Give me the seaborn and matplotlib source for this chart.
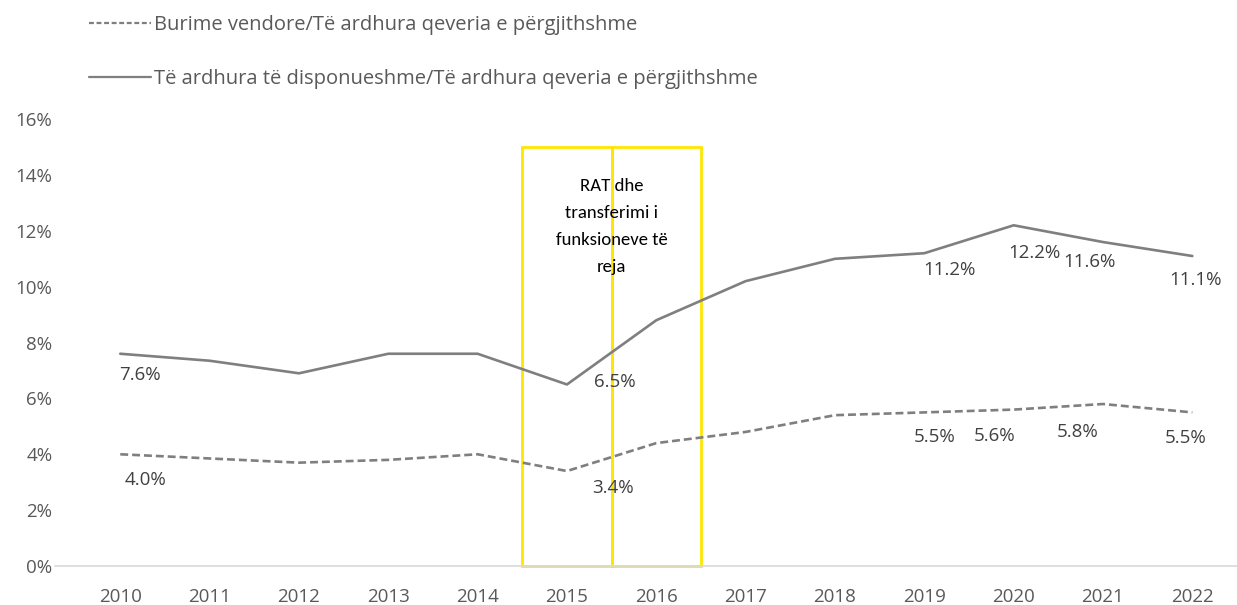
import matplotlib.pyplot as plt
import matplotlib.ticker as mticker
import pandas as pd
import seaborn as sns
from matplotlib.patches import Rectangle

years = [2010, 2011, 2012, 2013, 2014, 2015, 2016, 2017, 2018, 2019, 2020, 2021, 2022]
own_sources = [4.0, 3.85, 3.7, 3.8, 4.0, 3.4, 4.4, 4.8, 5.4, 5.5, 5.6, 5.8, 5.5]
disposable = [7.6, 7.35, 6.9, 7.6, 7.6, 6.5, 8.8, 10.2, 11.0, 11.2, 12.2, 11.6, 11.1]

name_own = "Burime vendore/Të ardhura qeveria e përgjithshme"
name_disp = "Të ardhura të disponueshme/Të ardhura qeveria e përgjithshme"
box_note = "RAT dhe\ntransferimi i\nfunksioneve të\nreja"
box_years = [2015, 2016]
box_top = 15

# which points get a data label, and label offsets in pixels (dx, dy)
label_idx = [0, 5, 9, 10, 11, 12]
disp_offsets = [(20, -21), (48, 2), (25, -17), (21, -28), (-14, -20), (3, -24)]
own_offsets = [(25, -26), (46, -17), (10, -25), (-19, -26), (-25, -28), (-7, -26)]

LINE = "#7f7f7f"
TEXT = "#404040"
TICK = "#595959"
YELLOW = "#FFE600"

df = pd.DataFrame({
    "x": list(range(len(years))) * 2,
    "value": own_sources + disposable,
    "series": [name_own] * len(years) + [name_disp] * len(years),
})

sns.set_style("white")
plt.rcParams["font.family"] = ["Open Sans", "DejaVu Sans"]

fig = plt.figure(figsize=(12.37, 6.05), dpi=100)
ax = fig.add_axes([0.0445, 0.0645, 0.9555, 0.7385])

sns.lineplot(data=df, x="x", y="value", hue="series", style="series",
             palette={name_own: LINE, name_disp: LINE},
             dashes={name_own: (3, 1.5), name_disp: ""},
             linewidth=1.9, legend=False, ax=ax)

ax.set_xlim(-0.73, 12.5)
ax.set_ylim(0, 16)
ax.set_xticks(range(len(years)))
ax.set_xticklabels([str(y) for y in years])
ax.yaxis.set_major_locator(mticker.MultipleLocator(2))
ax.yaxis.set_major_formatter(mticker.FuncFormatter(lambda v, p: f"{v:.0f}%"))
ax.tick_params(axis="x", length=0, pad=16, labelsize=13.5, labelcolor=TICK)
ax.tick_params(axis="y", length=0, pad=2, labelsize=13.5, labelcolor=TICK)
ax.set_xlabel("")
ax.set_ylabel("")
for s in ["top", "right", "left"]:
    ax.spines[s].set_visible(False)
ax.spines["bottom"].set_color("#d9d9d9")
ax.spines["bottom"].set_linewidth(1.2)

# yellow boxes around 2015 / 2016
for yr in box_years:
    i = years.index(yr)
    ax.add_patch(Rectangle((i - 0.5, 0), 1, box_top, fill=False,
                           edgecolor=YELLOW, linewidth=2, zorder=1, clip_on=False))
mid = years.index(box_years[0]) + 0.5
ax.text(mid, 13.9, box_note, ha="center", va="top", fontsize=13.5,
        color="black", linespacing=1.85, family=["Carlito", "Open Sans", "DejaVu Sans"])

for series, offs in [(disposable, disp_offsets), (own_sources, own_offsets)]:
    for i, (dx, dy) in zip(label_idx, offs):
        ax.annotate(f"{series[i]:.1f}%", (i, series[i]), xytext=(dx * 0.72, dy * 0.72),
                    textcoords="offset points", ha="center", va="center",
                    fontsize=13.5, color=TEXT)

# legend on two rows at the top left
h_own = plt.Line2D([], [], color=LINE, linewidth=1.6, dashes=(2.2, 1.2))
h_disp = plt.Line2D([], [], color=LINE, linewidth=1.6)
fig.legend([h_own, h_disp], [name_own, name_disp], loc="upper left",
           bbox_to_anchor=(0.057, 1.005), frameon=False, fontsize=14.5,
           labelcolor=TICK, handlelength=3.1, handletextpad=0.15,
           labelspacing=1.7)

fig.savefig("out.png", dpi=100)
